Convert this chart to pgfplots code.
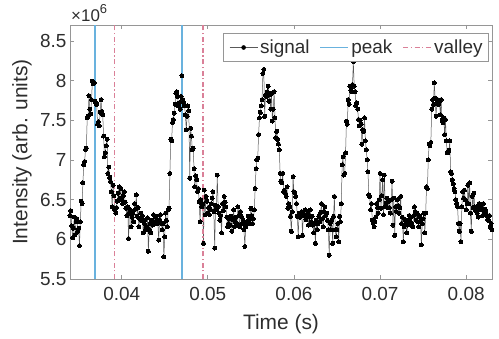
\documentclass[border=0pt]{standalone}
\usepackage{fontspec}
\setmainfont{Liberation Sans}
\usepackage{pgfplots}
\pgfplotsset{compat=1.18}
\definecolor{peakc}{RGB}{105,178,222}
\definecolor{valc}{RGB}{218,128,152}
\definecolor{axc}{RGB}{150,150,150}
\definecolor{txc}{RGB}{45,45,45}
\begin{document}
\begin{tikzpicture}
\useasboundingbox (0,0) rectangle (499bp,339bp);
\begin{axis}[
  name=ax,
  at={(70bp,60bp)}, anchor=south west,
  scale only axis, width=422bp, height=254bp,
  xmin=0.034, xmax=0.083, ymin=5.5, ymax=8.7,
  xtick={0.04,0.05,0.06,0.07,0.08},
  xticklabels={0.04,0.05,0.06,0.07,0.08},
  ytick={5.5,6,6.5,7,7.5,8,8.5},
  yticklabels={5.5,6,6.5,7,7.5,8,8.5},
  scaled ticks=false,
  tick align=inside, xtick pos=both, ytick pos=both,
  major tick length=4bp,
  axis line style={axc, line width=0.6bp},
  every tick/.style={axc, line width=0.6bp},
  tick label style={font=\fontsize{19}{22}\selectfont, text=txc},
  xticklabel style={yshift=-5bp},
  label style={font=\fontsize{21}{24}\selectfont, text=txc},
  xlabel={Time (s)}, ylabel={Intensity (arb. units)},
  xlabel style={at={(axis description cs:0.5,-0.197)}, anchor=base},
  ylabel style={at={(axis description cs:-0.114,0.5)}, anchor=center},
  legend columns=3,
  legend cell align=left,
  legend style={at={(axis description cs:0.9905,0.9685)}, anchor=north east,
    draw=none, fill=white, font=\fontsize{19}{22}\selectfont, text=txc,
    inner xsep=3bp, inner ysep=4.5bp, nodes={inner sep=2.2bp},
    /tikz/every even column/.append style={column sep=8bp}},
]
\addplot[draw=black!65, line width=0.5bp, mark=*, mark size=2bp, mark options={draw=black, fill=black, line width=0bp},
  legend image code/.code={\draw[draw=black!65, line width=0.5bp] (0bp,0bp) -- (28bp,0bp); \fill[black] (14bp,0bp) circle (2bp);}] coordinates {
(0.0340,6.30) (0.0341,6.36) (0.0342,6.17) (0.0343,6.02) (0.0344,6.14) (0.0345,6.28) (0.0346,6.06) (0.0347,6.22) (0.0348,6.26) (0.0349,6.10)
(0.0350,6.14) (0.0351,5.92) (0.0352,6.22) (0.0353,6.48) (0.0354,6.45) (0.0355,6.71) (0.0356,6.94) (0.0357,6.98) (0.0358,7.13) (0.0359,7.15)
(0.0360,7.53) (0.0361,7.55) (0.0362,7.81) (0.0363,7.64) (0.0364,7.58) (0.0365,7.76) (0.0366,7.99) (0.0367,7.96) (0.0368,7.97) (0.0369,7.74)
(0.0370,7.72) (0.0371,7.70) (0.0372,7.45) (0.0373,7.48) (0.0374,7.43) (0.0375,7.60) (0.0376,7.76) (0.0377,7.61) (0.0378,7.57) (0.0379,7.30)
(0.0380,7.04) (0.0381,7.09) (0.0382,7.18) (0.0383,7.26) (0.0384,6.83) (0.0385,6.91) (0.0386,6.78) (0.0387,6.73) (0.0388,6.60) (0.0389,6.41)
(0.0390,6.68) (0.0391,6.55) (0.0392,6.37) (0.0393,6.33) (0.0394,6.40) (0.0395,6.48) (0.0396,6.58) (0.0397,6.66) (0.0398,6.52) (0.0399,6.64)
(0.0400,6.50) (0.0401,6.45) (0.0402,6.55) (0.0403,6.60) (0.0404,6.47) (0.0405,6.39) (0.0406,6.30) (0.0407,6.41) (0.0408,6.01) (0.0409,6.33)
(0.0410,6.37) (0.0411,6.16) (0.0412,6.28) (0.0413,6.33) (0.0414,6.22) (0.0415,6.45) (0.0416,6.38) (0.0417,6.56) (0.0418,6.29) (0.0419,6.40)
(0.0420,6.16) (0.0421,6.26) (0.0422,6.33) (0.0423,6.24) (0.0424,6.30) (0.0425,6.08) (0.0426,6.20) (0.0427,6.24) (0.0428,6.12) (0.0429,6.16)
(0.0430,6.27) (0.0431,5.85) (0.0432,6.12) (0.0433,6.20) (0.0434,6.08) (0.0435,6.24) (0.0436,6.18) (0.0437,6.31) (0.0438,6.20) (0.0439,6.29)
(0.0440,6.29) (0.0441,6.24) (0.0442,6.20) (0.0443,5.99) (0.0444,6.25) (0.0445,6.31) (0.0446,6.20) (0.0447,6.12) (0.0448,6.20) (0.0449,5.78)
(0.0450,6.03) (0.0451,6.33) (0.0452,6.24) (0.0453,6.16) (0.0454,6.37) (0.0455,6.39) (0.0456,6.83) (0.0457,7.26) (0.0458,7.24) (0.0459,7.47)
(0.0460,7.51) (0.0461,7.59) (0.0462,7.70) (0.0463,7.84) (0.0464,7.86) (0.0465,7.80) (0.0466,7.68) (0.0467,7.72) (0.0468,7.64) (0.0469,7.80)
(0.0470,8.06) (0.0471,7.76) (0.0472,7.72) (0.0473,7.68) (0.0474,7.57) (0.0475,7.38) (0.0476,7.55) (0.0477,7.68) (0.0478,7.62) (0.0479,6.77)
(0.0480,7.40) (0.0481,7.30) (0.0482,7.13) (0.0483,7.15) (0.0484,6.89) (0.0485,6.66) (0.0486,6.80) (0.0487,6.75) (0.0488,6.60) (0.0489,6.64)
(0.0490,6.47) (0.0491,6.22) (0.0492,6.50) (0.0493,6.41) (0.0494,6.45) (0.0495,5.95) (0.0496,6.62) (0.0497,6.31) (0.0498,6.54) (0.0499,6.48)
(0.0500,6.33) (0.0501,6.40) (0.0502,6.31) (0.0503,6.38) (0.0504,6.45) (0.0505,6.52) (0.0506,6.60) (0.0507,6.35) (0.0508,5.89) (0.0509,6.43)
(0.0510,6.38) (0.0511,6.81) (0.0512,6.41) (0.0513,6.33) (0.0514,6.24) (0.0515,6.30) (0.0516,6.08) (0.0517,6.45) (0.0518,6.36) (0.0519,6.54)
(0.0520,6.47) (0.0521,6.41) (0.0522,6.28) (0.0523,6.16) (0.0524,6.20) (0.0525,6.26) (0.0526,6.18) (0.0527,6.29) (0.0528,6.10) (0.0529,6.25)
(0.0530,6.37) (0.0531,6.16) (0.0532,6.22) (0.0533,6.28) (0.0534,6.20) (0.0535,6.41) (0.0536,6.30) (0.0537,6.16) (0.0538,6.35) (0.0539,6.29)
(0.0540,6.20) (0.0541,6.24) (0.0542,6.12) (0.0543,5.91) (0.0544,6.16) (0.0545,6.22) (0.0546,6.20) (0.0547,6.29) (0.0548,6.24) (0.0549,6.20)
(0.0550,6.39) (0.0551,6.30) (0.0552,6.20) (0.0553,6.26) (0.0554,6.37) (0.0555,6.64) (0.0556,6.89) (0.0557,7.00) (0.0558,7.02) (0.0559,7.32)
(0.0560,7.53) (0.0561,7.60) (0.0562,7.68) (0.0563,7.76) (0.0564,8.09) (0.0565,8.14) (0.0566,7.55) (0.0567,7.82) (0.0568,7.80) (0.0569,7.86)
(0.0570,7.93) (0.0571,7.74) (0.0572,7.82) (0.0573,7.64) (0.0574,7.84) (0.0575,7.49) (0.0576,7.64) (0.0577,7.86) (0.0578,7.53) (0.0579,7.28)
(0.0580,7.36) (0.0581,7.26) (0.0582,7.20) (0.0583,7.13) (0.0584,6.83) (0.0585,6.73) (0.0586,6.71) (0.0587,6.83) (0.0588,6.60) (0.0589,6.62)
(0.0590,6.58) (0.0591,6.54) (0.0592,6.66) (0.0593,6.39) (0.0594,6.45) (0.0595,6.41) (0.0596,6.29) (0.0597,6.10) (0.0598,6.35) (0.0599,6.79)
(0.0600,6.60) (0.0601,6.58) (0.0602,6.54) (0.0603,6.45) (0.0604,6.29) (0.0605,6.03) (0.0606,6.33) (0.0607,6.28) (0.0608,6.29) (0.0609,6.35)
(0.0610,6.05) (0.0611,6.33) (0.0612,6.30) (0.0613,6.37) (0.0614,6.25) (0.0615,6.29) (0.0616,6.32) (0.0617,6.18) (0.0618,6.28) (0.0619,6.37)
(0.0620,6.22) (0.0621,6.29) (0.0622,6.18) (0.0623,6.08) (0.0624,6.20) (0.0625,5.95) (0.0626,6.24) (0.0627,6.12) (0.0628,6.20) (0.0629,6.29)
(0.0630,6.22) (0.0631,6.34) (0.0632,6.45) (0.0633,6.26) (0.0634,6.16) (0.0635,6.35) (0.0636,6.41) (0.0637,6.30) (0.0638,6.33) (0.0639,6.24)
(0.0640,6.12) (0.0641,5.80) (0.0642,6.20) (0.0643,6.12) (0.0644,6.24) (0.0645,5.95) (0.0646,6.29) (0.0647,6.54) (0.0648,6.12) (0.0649,6.03)
(0.0650,6.12) (0.0651,6.20) (0.0652,5.97) (0.0653,6.29) (0.0654,6.22) (0.0655,6.45) (0.0656,6.94) (0.0657,7.04) (0.0658,6.81) (0.0659,6.83)
(0.0660,7.09) (0.0661,7.49) (0.0662,7.45) (0.0663,7.76) (0.0664,7.70) (0.0665,7.93) (0.0666,7.88) (0.0667,7.86) (0.0668,7.95) (0.0669,8.24)
(0.0670,7.93) (0.0671,7.86) (0.0672,7.68) (0.0673,7.72) (0.0674,7.64) (0.0675,7.51) (0.0676,7.43) (0.0677,7.50) (0.0678,7.45) (0.0679,7.20)
(0.0680,7.38) (0.0681,7.36) (0.0682,7.53) (0.0683,7.24) (0.0684,7.13) (0.0685,7.00) (0.0686,6.85) (0.0687,6.56) (0.0688,6.54) (0.0689,6.37)
(0.0690,6.45) (0.0691,6.24) (0.0692,6.20) (0.0693,6.16) (0.0694,6.22) (0.0695,6.28) (0.0696,6.45) (0.0697,6.40) (0.0698,6.33) (0.0699,6.50)
(0.0700,6.83) (0.0701,6.39) (0.0702,6.55) (0.0703,6.75) (0.0704,6.31) (0.0705,6.81) (0.0706,6.41) (0.0707,6.46) (0.0708,6.52) (0.0709,6.40)
(0.0710,6.48) (0.0711,6.40) (0.0712,6.33) (0.0713,6.50) (0.0714,6.73) (0.0715,6.18) (0.0716,6.52) (0.0717,6.05) (0.0718,6.41) (0.0719,6.35)
(0.0720,6.50) (0.0721,6.42) (0.0722,6.33) (0.0723,6.40) (0.0724,6.54) (0.0725,6.20) (0.0726,6.28) (0.0727,5.97) (0.0728,6.16) (0.0729,6.25)
(0.0730,6.20) (0.0731,6.08) (0.0732,6.18) (0.0733,6.24) (0.0734,6.30) (0.0735,6.22) (0.0736,6.28) (0.0737,6.20) (0.0738,6.16) (0.0739,6.30)
(0.0740,6.41) (0.0741,6.35) (0.0742,6.24) (0.0743,6.33) (0.0744,6.22) (0.0745,6.16) (0.0746,6.29) (0.0747,6.24) (0.0748,5.93) (0.0749,6.20)
(0.0750,6.26) (0.0751,6.33) (0.0752,6.08) (0.0753,6.33) (0.0754,6.66) (0.0755,6.64) (0.0756,7.00) (0.0757,7.20) (0.0758,7.18) (0.0759,7.22)
(0.0760,7.64) (0.0761,7.76) (0.0762,7.70) (0.0763,7.97) (0.0764,7.78) (0.0765,7.55) (0.0766,7.72) (0.0767,7.76) (0.0768,7.70) (0.0769,7.74)
(0.0770,7.57) (0.0771,7.76) (0.0772,7.50) (0.0773,7.47) (0.0774,7.53) (0.0775,7.32) (0.0776,7.51) (0.0777,7.24) (0.0778,7.09) (0.0779,7.09)
(0.0780,7.12) (0.0781,7.24) (0.0782,6.85) (0.0783,6.83) (0.0784,6.75) (0.0785,6.70) (0.0786,6.64) (0.0787,6.60) (0.0788,6.50) (0.0789,6.45)
(0.0790,6.41) (0.0791,6.20) (0.0792,6.10) (0.0793,6.20) (0.0794,5.97) (0.0795,6.41) (0.0796,6.60) (0.0797,6.52) (0.0798,6.62) (0.0799,6.50)
(0.0800,6.37) (0.0801,6.45) (0.0802,6.68) (0.0803,6.45) (0.0804,6.71) (0.0805,6.33) (0.0806,6.10) (0.0807,6.54) (0.0808,6.40) (0.0809,6.58)
(0.0810,6.41) (0.0811,6.36) (0.0812,6.41) (0.0813,6.33) (0.0814,6.28) (0.0815,6.45) (0.0816,6.38) (0.0817,6.41) (0.0818,6.37) (0.0819,6.30)
(0.0820,6.45) (0.0821,6.33) (0.0822,6.38) (0.0823,6.35) (0.0824,6.29) (0.0825,6.25) (0.0826,6.24) (0.0827,6.30) (0.0828,6.16) (0.0829,6.20)
(0.0830,6.12)
};
\addlegendentry{signal}
\addplot[draw=peakc, line width=1.3bp,
  legend image code/.code={\draw[draw=peakc, line width=1.4bp] (0bp,0bp) -- (28bp,0bp);}] coordinates {(0.0369,5.5) (0.0369,8.7)};
\addlegendentry{peak}
\addplot[draw=valc, line width=1.3bp, dash pattern=on 5bp off 2.5bp on 1.3bp off 2.5bp,
  legend image code/.code={\draw[draw=valc, line width=1.4bp, dash pattern=on 5bp off 2.5bp on 1.3bp off 2.5bp] (0bp,0bp) -- (28bp,0bp);}] coordinates {(0.0392,5.5) (0.0392,8.7)};
\addlegendentry{valley}
\addplot[draw=peakc, line width=1.3bp, forget plot] coordinates {(0.0470,5.5) (0.0470,8.7)};
\addplot[draw=valc, line width=1.3bp, dash pattern=on 5bp off 2.5bp on 1.3bp off 2.5bp, forget plot] coordinates {(0.04945,5.5) (0.04945,8.7)};
\end{axis}
\draw[axc, line width=0.6bp] (223bp,278bp) rectangle (488bp,306bp);
\node[anchor=base west, inner sep=0pt, font=\fontsize{17}{20}\selectfont, text=txc] at (71bp,317bp) {×10\raisebox{8bp}{\fontsize{13}{15}\selectfont 6}};
\end{tikzpicture}
\end{document}
